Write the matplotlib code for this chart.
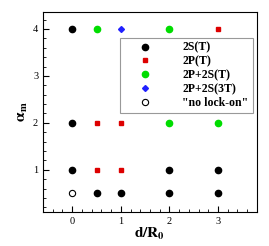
import matplotlib.pyplot as plt
from matplotlib.ticker import MultipleLocator

plt.rcParams['font.family'] = 'Liberation Serif'
plt.rcParams['mathtext.fontset'] = 'stix'

# d/R0 and alpha_m for each wake mode
s2_x = [0, 0, 0, 2, 3, 0.5, 1, 2, 3]
s2_y = [4, 2, 1, 1, 1, 0.5, 0.5, 0.5, 0.5]
p2_x = [3, 0.5, 1, 0.5, 1]
p2_y = [4, 2, 2, 1, 1]
p2s2_x = [0.5, 2, 2, 3]
p2s2_y = [4, 4, 2, 2]
p2s2_3t_x = [1]
p2s2_3t_y = [4]
nolock_x = [0]
nolock_y = [0.5]

fig = plt.figure(figsize=(2.69, 2.46), dpi=100)
ax = fig.add_axes([0.160, 0.138, 0.795, 0.813])

ax.plot(s2_x, s2_y, 'o', color='black', markersize=4.5, label='2S(T)')
ax.plot(p2_x, p2_y, 's', color='#dd0000', markersize=3.2, label='2P(T)')
ax.plot(p2s2_x, p2s2_y, 'o', color='#00dd00', markersize=4.5, label='2P+2S(T)')
ax.plot(p2s2_3t_x, p2s2_3t_y, 'D', color='#2020ff', markersize=3, label='2P+2S(3T)')
ax.plot(nolock_x, nolock_y, 'o', markerfacecolor='white', markeredgecolor='black',
        markeredgewidth=0.8, markersize=4.5, label='"no lock-on"')

ax.set_xlim(-0.6, 3.8)
ax.set_ylim(0.1, 4.36)
ax.set_xticks([0, 1, 2, 3])
ax.set_yticks([1, 2, 3, 4])
ax.xaxis.set_minor_locator(MultipleLocator(0.2))
ax.yaxis.set_minor_locator(MultipleLocator(0.2))
ax.tick_params(which='both', direction='in', top=False, right=False, labelsize=7.5)
ax.tick_params(which='major', length=4, width=0.8)
ax.tick_params(which='minor', length=2, width=0.6)

ax.set_xlabel(r'$\mathbf{d/R_0}$', fontsize=11, labelpad=0)
ax.set_ylabel(r'$\mathbf{\alpha_m}$', fontsize=11, labelpad=2)

leg = ax.legend(loc='upper right', bbox_to_anchor=(0.98, 0.872), fancybox=False,
                prop={'weight': 'bold', 'size': 8.5}, handlelength=3.5,
                handletextpad=1.4, borderpad=0.35, labelspacing=0.15,
                borderaxespad=0)
leg.get_frame().set_edgecolor('gray')
leg.get_frame().set_linewidth(0.8)

fig.savefig('out.png', dpi=100)
